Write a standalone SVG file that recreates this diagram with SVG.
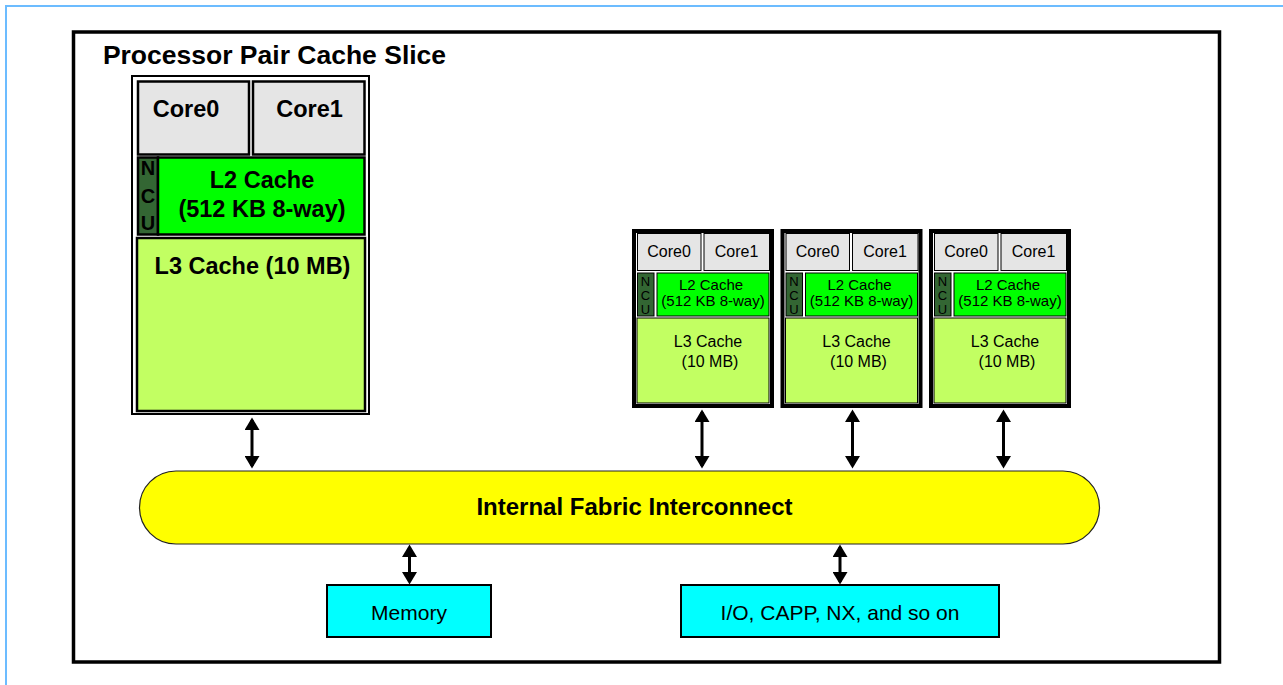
<svg xmlns="http://www.w3.org/2000/svg" width="1283" height="685" viewBox="0 0 1283 685">
<style>
text{font-family:"Liberation Sans",Arial,Helvetica,sans-serif;fill:#000;text-anchor:middle}
.b{font-weight:bold}
.big{font-size:23.5px}
.sm{font-size:16px}
.n{font-size:13px}
.l2t{font-size:15px}
.core{fill:#e5e5e5;stroke:#000}
.l2{fill:#00ff00;stroke:#000}
.ncu{fill:#336633;stroke:#000}
.l3{fill:#c2ff62;stroke:#000}
.frame{fill:#fff;stroke:#000}
.arr{stroke:#000;stroke-width:3;fill:none;marker-start:url(#ah);marker-end:url(#ah)}
</style>
<defs>
<marker id="ah" markerUnits="userSpaceOnUse" markerWidth="15" markerHeight="15" refX="10" refY="7.5" orient="auto-start-reverse">
<path d="M0,0 L12.5,7.5 L0,15 z" fill="#000"/>
</marker>
</defs>
<rect width="1283" height="685" fill="#fff"/>
<path d="M6,690 V6 H1290" fill="none" stroke="#6cbcff" stroke-width="2"/>
<g id="slice-frame">
<rect x="73.5" y="32" width="1146" height="630" fill="none" stroke="#000" stroke-width="3.5"/>
<text x="274.5" y="64" class="b" style="font-size:26.5px">Processor Pair Cache Slice</text>
</g>
<g id="proc-big">
<rect class="frame" x="132" y="76" width="237" height="338" stroke-width="2"/>
<rect class="core" x="138" y="81.5" width="111" height="73" stroke-width="2.5"/>
<rect class="core" x="253" y="81.5" width="111.5" height="73" stroke-width="2.5"/>
<rect class="ncu" x="138" y="157.5" width="20" height="77" stroke-width="2.5"/>
<rect class="l2" x="158" y="157.5" width="206.5" height="77" stroke-width="2.5"/>
<rect class="l3" x="137" y="238" width="228" height="173" stroke-width="2.5"/>
<text x="186" y="117" class="b big">Core0</text>
<text x="309.5" y="117" class="b big">Core1</text>
<text x="148" y="175" class="b" style="font-size:20px">N</text>
<text x="148" y="203" class="b" style="font-size:20px">C</text>
<text x="148" y="230" class="b" style="font-size:20px">U</text>
<text x="262" y="188" class="b big">L2 Cache</text>
<text x="262" y="217" class="b big">(512 KB 8-way)</text>
<text x="252.5" y="274" class="b big">L3 Cache (10 MB)</text>
</g>
<g id="proc-1">
<rect class="frame" x="634" y="231" width="138" height="175" stroke-width="4"/>
<rect class="core" x="637.5" y="233.5" width="63.5" height="37" stroke-width="1"/>
<rect class="core" x="704" y="233.5" width="65.5" height="37" stroke-width="1"/>
<rect class="ncu" x="637.5" y="273" width="16.5" height="43" stroke-width="1"/>
<rect class="l2" x="657" y="273" width="112" height="43" stroke-width="1"/>
<rect class="l3" x="637" y="318" width="132" height="85" stroke-width="1"/>
<text x="669" y="257" class="sm">Core0</text>
<text x="736.5" y="257" class="sm">Core1</text>
<text x="645.5" y="286" class="n">N</text>
<text x="645.5" y="300" class="n">C</text>
<text x="645.5" y="314" class="n">U</text>
<text x="711" y="289.5" class="l2t">L2 Cache</text>
<text x="713" y="305.5" class="l2t">(512 KB 8-way)</text>
<text x="708" y="347" class="sm">L3 Cache</text>
<text x="710" y="367" class="sm">(10 MB)</text>
</g>
<g id="proc-2" transform="translate(148.5,0)">
<rect class="frame" x="634" y="231" width="138" height="175" stroke-width="4"/>
<rect class="core" x="637.5" y="233.5" width="63.5" height="37" stroke-width="1"/>
<rect class="core" x="704" y="233.5" width="65.5" height="37" stroke-width="1"/>
<rect class="ncu" x="637.5" y="273" width="16.5" height="43" stroke-width="1"/>
<rect class="l2" x="657" y="273" width="112" height="43" stroke-width="1"/>
<rect class="l3" x="637" y="318" width="132" height="85" stroke-width="1"/>
<text x="669" y="257" class="sm">Core0</text>
<text x="736.5" y="257" class="sm">Core1</text>
<text x="645.5" y="286" class="n">N</text>
<text x="645.5" y="300" class="n">C</text>
<text x="645.5" y="314" class="n">U</text>
<text x="711" y="289.5" class="l2t">L2 Cache</text>
<text x="713" y="305.5" class="l2t">(512 KB 8-way)</text>
<text x="708" y="347" class="sm">L3 Cache</text>
<text x="710" y="367" class="sm">(10 MB)</text>
</g>
<g id="proc-3" transform="translate(297,0)">
<rect class="frame" x="634" y="231" width="138" height="175" stroke-width="4"/>
<rect class="core" x="637.5" y="233.5" width="63.5" height="37" stroke-width="1"/>
<rect class="core" x="704" y="233.5" width="65.5" height="37" stroke-width="1"/>
<rect class="ncu" x="637.5" y="273" width="16.5" height="43" stroke-width="1"/>
<rect class="l2" x="657" y="273" width="112" height="43" stroke-width="1"/>
<rect class="l3" x="637" y="318" width="132" height="85" stroke-width="1"/>
<text x="669" y="257" class="sm">Core0</text>
<text x="736.5" y="257" class="sm">Core1</text>
<text x="645.5" y="286" class="n">N</text>
<text x="645.5" y="300" class="n">C</text>
<text x="645.5" y="314" class="n">U</text>
<text x="711" y="289.5" class="l2t">L2 Cache</text>
<text x="713" y="305.5" class="l2t">(512 KB 8-way)</text>
<text x="708" y="347" class="sm">L3 Cache</text>
<text x="710" y="367" class="sm">(10 MB)</text>
</g>
<g id="fabric">
<rect x="139.5" y="471" width="960" height="73" rx="36.5" ry="36.5" fill="#ffff00" stroke="#222" stroke-width="1.2"/>
<text x="634.5" y="515" class="b" style="font-size:24px">Internal Fabric Interconnect</text>
</g>
<g id="memory">
<rect x="327" y="585" width="164" height="52" fill="#00ffff" stroke="#000" stroke-width="2"/>
<text x="409" y="620" style="font-size:21px">Memory</text>
</g>
<g id="io">
<rect x="681" y="585" width="318" height="52" fill="#00ffff" stroke="#000" stroke-width="2"/>
<text x="840" y="620" style="font-size:21px">I/O, CAPP, NX, and so on</text>
</g>
<g id="connectors">
<line class="arr" x1="252" y1="420" x2="252" y2="466"/>
<line class="arr" x1="702" y1="412" x2="702" y2="466"/>
<line class="arr" x1="852.5" y1="412" x2="852.5" y2="466"/>
<line class="arr" x1="1003.5" y1="412" x2="1003.5" y2="466"/>
<line class="arr" x1="409.5" y1="547" x2="409.5" y2="582"/>
<line class="arr" x1="840" y1="547" x2="840" y2="582"/>
</g>
</svg>
